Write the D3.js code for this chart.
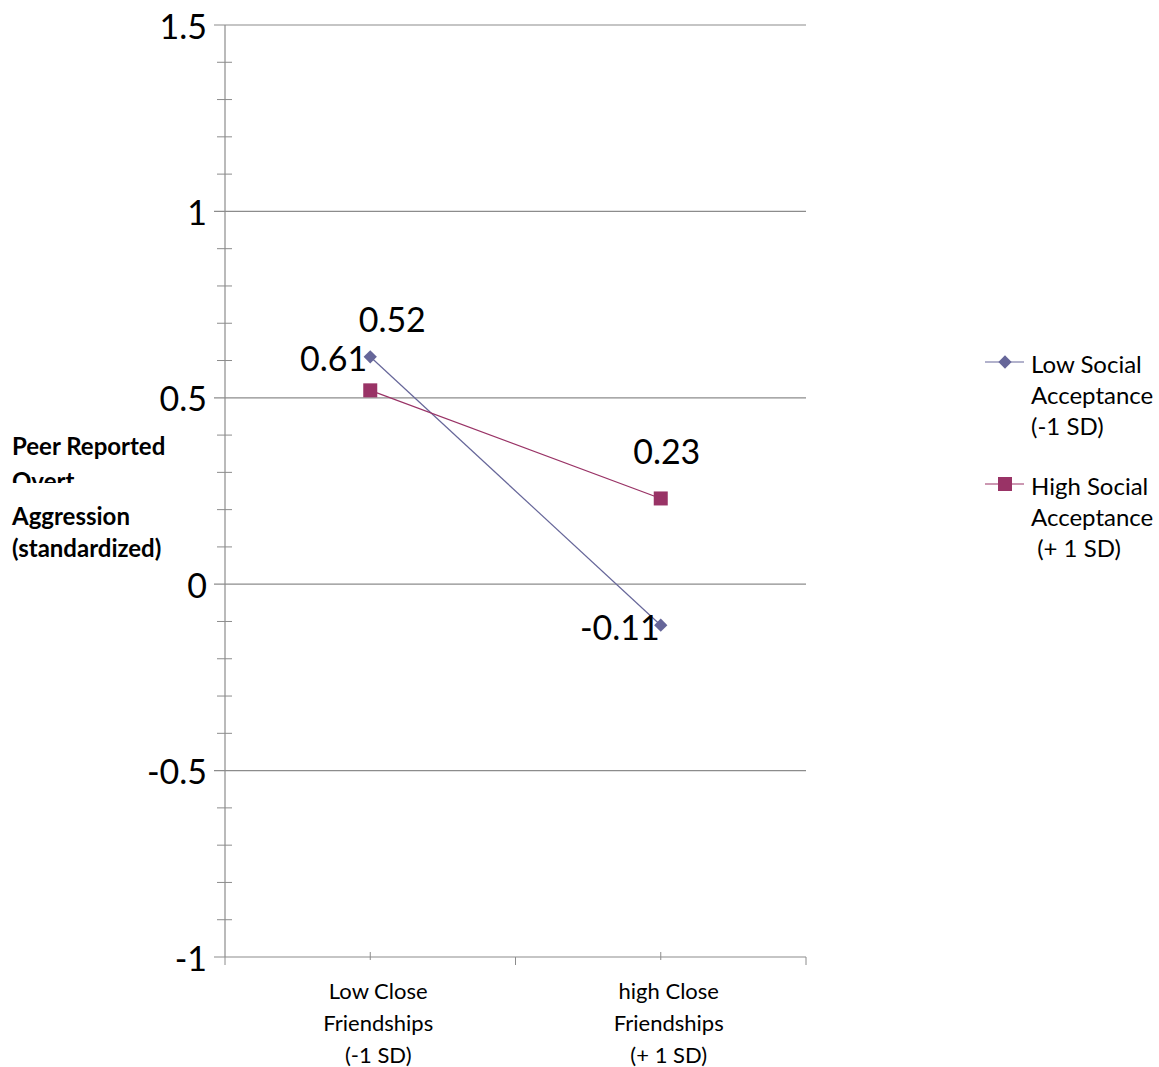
<!DOCTYPE html>
<html>
<head>
<meta charset="utf-8">
<script src="https://cdn.jsdelivr.net/npm/d3@7"></script>
<style>
  html, body { margin: 0; padding: 0; background: #fff; }
  svg { display: block; font-family: Lato, "Open Sans", sans-serif; }
</style>
</head>
<body>
<svg id="chart" width="1159" height="1067"></svg>
<script>
// Categories along the x axis (each split into lines)
const categories = ["low", "high"];
const categoryLines = [
  ["Low Close", "Friendships", "(-1 SD)"],
  ["high Close", "Friendships", "(+ 1 SD)"]
];

// Series values
const seriesNames = ["Low Social Acceptance (-1 SD)", "High Social Acceptance (+ 1 SD)"];
const lowSocial = [0.61, -0.11];
const highSocial = [0.52, 0.23];

// Axis ticks
const yMajorTicks = [-1, -0.5, 0, 0.5, 1, 1.5];
const yTickLabels = ["-1", "-0.5", "0", "0.5", "1", "1.5"];

const legendLines = [
  ["Low Social", "Acceptance", "(-1 SD)"],
  ["High Social", "Acceptance", "\u00a0(+ 1 SD)"]
];
const yTitleLines = ["Peer Reported", "Overt", "Aggression", "(standardized)"];

const colors = ["#666699", "#993366"];
const gridColor = "#8c8c8c";

const svg = d3.select("#chart");
const plotLeft = 225, plotRight = 806, plotTop = 25, plotBottom = 957;

const y = d3.scaleLinear().domain([-1, 1.5]).range([plotBottom, plotTop]);
const x = d3.scaleBand().domain(categories).range([plotLeft, plotRight]);
const cx = c => x(c) + x.bandwidth() / 2;

// Horizontal gridlines at major ticks
svg.append("g").selectAll("line").data(yMajorTicks.filter(v => v !== -1)).join("line")
  .attr("x1", plotLeft - 11).attr("x2", plotRight)
  .attr("y1", d => y(d)).attr("y2", d => y(d))
  .attr("stroke", gridColor).attr("stroke-width", 1.2);

// Y axis line and minor ticks
svg.append("line").attr("x1", plotLeft).attr("x2", plotLeft).attr("y1", plotTop).attr("y2", plotBottom)
  .attr("stroke", gridColor).attr("stroke-width", 1.2);
const minorTicks = d3.range(-10, 16).map(i => i / 10).filter(v => Math.abs(v * 2 - Math.round(v * 2)) > 1e-6);
svg.append("g").selectAll("line").data(minorTicks).join("line")
  .attr("x1", plotLeft - 8).attr("x2", plotLeft + 7)
  .attr("y1", d => y(d)).attr("y2", d => y(d))
  .attr("stroke", gridColor).attr("stroke-width", 1);

// Y tick labels
svg.append("g").selectAll("text").data(yMajorTicks).join("text")
  .attr("x", 207).attr("y", d => y(d))
  .attr("text-anchor", "end").attr("dominant-baseline", "central")
  .attr("font-size", 34).attr("fill", "#000")
  .text((d, i) => yTickLabels[i]);

// X axis line and ticks
svg.append("line").attr("x1", plotLeft - 11).attr("x2", plotRight).attr("y1", plotBottom).attr("y2", plotBottom)
  .attr("stroke", gridColor).attr("stroke-width", 1.2);
svg.append("g").selectAll("line").data([plotLeft, plotLeft + x.bandwidth(), plotRight]).join("line")
  .attr("x1", d => d).attr("x2", d => d).attr("y1", plotBottom).attr("y2", plotBottom + 8)
  .attr("stroke", gridColor).attr("stroke-width", 1);
svg.append("g").selectAll("line").data(categories).join("line")
  .attr("x1", d => cx(d)).attr("x2", d => cx(d)).attr("y1", plotBottom - 5).attr("y2", plotBottom + 3)
  .attr("stroke", gridColor).attr("stroke-width", 1);

// X category labels
categories.forEach((c, i) => {
  svg.append("g").selectAll("text").data(categoryLines[i]).join("text")
    .attr("x", cx(c) + 8).attr("y", (d, j) => 990 + j * 32)
    .attr("text-anchor", "middle").attr("dominant-baseline", "central")
    .attr("font-size", 22).attr("fill", "#000")
    .text(d => d);
});

// Y axis title, second line clipped at the bottom
const clip = svg.append("defs").append("clipPath").attr("id", "titleClip");
clip.append("rect").attr("x", 0).attr("y", 425).attr("width", 210).attr("height", 58);
clip.append("rect").attr("x", 0).attr("y", 495).attr("width", 210).attr("height", 80);
svg.append("g").attr("clip-path", "url(#titleClip)").selectAll("text").data(yTitleLines).join("text")
  .attr("x", 12).attr("y", (d, i) => [445, 480, 515, 547][i])
  .attr("dominant-baseline", "central")
  .attr("font-size", 24).attr("font-weight", "bold").attr("fill", "#000")
  .text(d => d);

// Series lines and markers
const series = [lowSocial, highSocial];
const line = d3.line().x((d, i) => cx(categories[i])).y(d => y(d));
series.forEach((vals, s) => {
  svg.append("path").datum(vals).attr("d", line)
    .attr("fill", "none").attr("stroke", colors[s]).attr("stroke-width", 1.2);
});
const diamond = d3.symbol().type(d3.symbolSquare).size(88);
svg.append("g").selectAll("path").data(lowSocial).join("path")
  .attr("d", diamond())
  .attr("transform", (d, i) => `translate(${cx(categories[i])},${y(d)}) rotate(45)`)
  .attr("fill", colors[0]);
svg.append("g").selectAll("rect").data(highSocial).join("rect")
  .attr("x", (d, i) => cx(categories[i]) - 7).attr("y", d => y(d) - 7)
  .attr("width", 14).attr("height", 14)
  .attr("fill", colors[1]);

// Data labels
const dataLabels = [
  { v: lowSocial[0], t: "0.61", x: cx(categories[0]) - 3, y: y(lowSocial[0]) + 1, anchor: "end" },
  { v: highSocial[0], t: "0.52", x: cx(categories[0]) + 22, y: y(highSocial[0]) - 72, anchor: "middle" },
  { v: highSocial[1], t: "0.23", x: cx(categories[1]) + 6, y: y(highSocial[1]) - 48, anchor: "middle" },
  { v: lowSocial[1], t: "-0.11", x: cx(categories[1]) - 1, y: y(lowSocial[1]) + 1, anchor: "end" }
];
svg.append("g").selectAll("text").data(dataLabels).join("text")
  .attr("x", d => d.x).attr("y", d => d.y)
  .attr("text-anchor", d => d.anchor).attr("dominant-baseline", "central")
  .attr("font-size", 34).attr("fill", "#000")
  .text(d => d.t);

// Legend
const legendY = [362, 484];
legendY.forEach((ly, s) => {
  const g = svg.append("g");
  g.append("line").attr("x1", 985).attr("x2", 1024).attr("y1", ly).attr("y2", ly)
    .attr("stroke", colors[s]).attr("stroke-width", 1.2);
  if (s === 0) {
    g.append("path").attr("d", diamond())
      .attr("transform", `translate(1005,${ly}) rotate(45)`).attr("fill", colors[0]);
  } else {
    g.append("rect").attr("x", 998).attr("y", ly - 7).attr("width", 14).attr("height", 14)
      .attr("fill", colors[1]);
  }
  g.selectAll("text").data(legendLines[s]).join("text")
    .attr("x", 1031).attr("y", (d, j) => ly + 1 + j * 31)
    .attr("dominant-baseline", "central")
    .attr("font-size", 24).attr("fill", "#000")
    .text(d => d);
});
</script>
</body>
</html>
